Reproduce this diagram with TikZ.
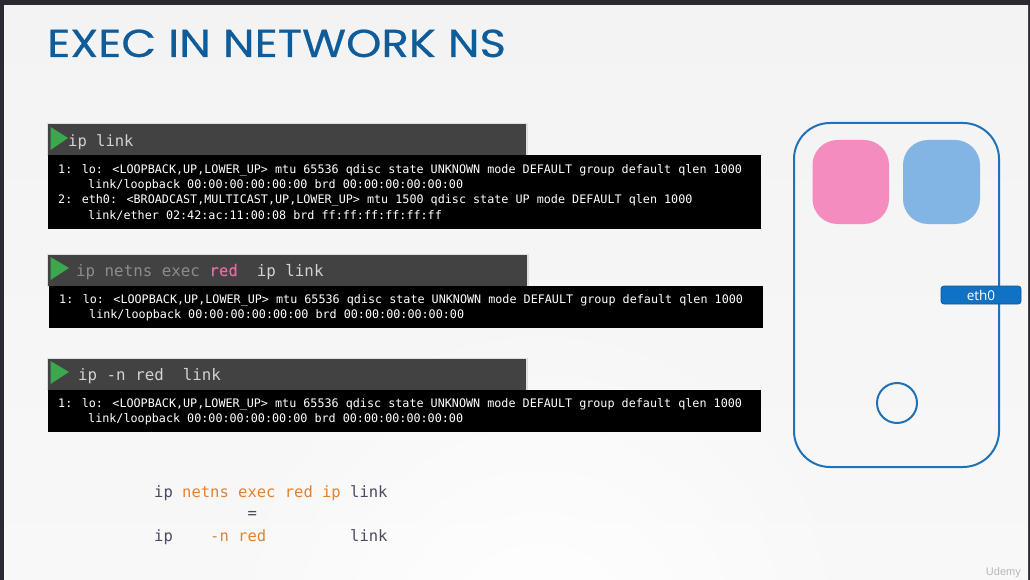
\documentclass[tikz,border=0pt]{standalone}
\usepackage{fontspec}
\setmainfont{Liberation Sans}
\newfontfamily\termfont{DejaVu Sans Mono}
\newfontfamily\termsemi[FakeBold=0.25]{DejaVu Sans Mono}
\newfontfamily\titlefont[FakeBold=0.5,FakeStretch=1.155]{Poppins}
\newfontfamily\labelfont{Open Sans}
\usetikzlibrary{positioning,fadings}
\tikzfading[name=glowfade,inner color=transparent!0,outer color=transparent!100]
\definecolor{pagebg}{HTML}{F3F3F4}
\definecolor{pagelow}{HTML}{F8F8F8}
\definecolor{framedark}{HTML}{2A2A33}
\definecolor{titleblue}{HTML}{0F5C9A}
\definecolor{headbar}{HTML}{424242}
\definecolor{playgreen}{HTML}{3CA84E}
\definecolor{nsblue}{HTML}{1F72B8}
\definecolor{nspink}{HTML}{F48CC0}
\definecolor{nslight}{HTML}{82B4E4}
\definecolor{ethfill}{HTML}{0F72C4}
\definecolor{ethline}{HTML}{0D5A9C}
\definecolor{cmdgrey}{HTML}{8C8C8C}
\definecolor{cmdlight}{HTML}{D2D2D2}
\definecolor{cmdpink}{HTML}{E56A9F}
\definecolor{codedark}{HTML}{4A4A62}
\definecolor{codeorange}{HTML}{E08233}
\tikzset{
  box/.style={inner sep=0pt,outer sep=0pt,anchor=north west,rectangle},
  headbox/.style={box,fill=headbar},
  termbox/.style={box,fill=black},
  termtext/.style={inner sep=0pt,anchor=base west,text=white,font=\termfont\fontsize{11.75}{14}\selectfont},
  cmdtext/.style={inner sep=0pt,anchor=base west,text=cmdlight,font=\termfont\fontsize{15.8}{18}\selectfont},
  codetext/.style={inner sep=0pt,anchor=base west,text=codedark,font=\termfont\fontsize{15.5}{18}\selectfont},
  play/.style={fill=playgreen,draw=none},
  nsbox/.style={box,rounded corners=25pt},
  headshadow/.style={fill=black!13,draw=none}
}
\begin{document}
\begin{tikzpicture}[x=1pt,y=-1pt]
\useasboundingbox (0,0) rectangle (1030,580);
% page background
\fill[framedark] (0,0) rectangle (1030,580);
\shade[top color=pagebg,bottom color=pagelow] (4,6) rectangle (1028,580);
\begin{scope}
\clip (4,6) rectangle (1028,580);
\fill[white,path fading=glowfade] (540,640) circle (340);
\end{scope}
% title
\node[inner sep=0pt,anchor=base west,text=titleblue,font=\titlefont\fontsize{39}{44}\selectfont] (title) at (47,57) {EXEC IN NETWORK NS};
% first block
\fill[headshadow] (47,123) rectangle (527.5,156);
\node[headbox,minimum width=478pt,minimum height=31pt] (head1) at (48,124) {};
\node[termbox,minimum width=713pt,minimum height=74pt] (term1) at (48,155) {};
\fill[play] (50.5,127) -- (68,138) -- (50.5,150) -- cycle;
\node[cmdtext,font=\termfont\fontsize{15.5}{18}\selectfont] (cmd1) at (68,147) {ip link};
\node[termtext] (l11) at (58,174) {1: lo: <LOOPBACK,UP,LOWER\_UP> mtu 65536 qdisc state UNKNOWN mode DEFAULT group default qlen 1000};
\node[termtext] (l12) at (88,189) {link/loopback 00:00:00:00:00:00 brd 00:00:00:00:00:00};
\node[termtext] (l13) at (58,204) {2: eth0: <BROADCAST,MULTICAST,UP,LOWER\_UP> mtu 1500 qdisc state UP mode DEFAULT qlen 1000};
\node[termtext] (l14) at (88,219) {link/ether 02:42:ac:11:00:08 brd ff:ff:ff:ff:ff:ff};
% second block
\fill[headshadow] (47,254) rectangle (528.5,287);
\node[headbox,minimum width=479pt,minimum height=31pt] (head2) at (48,255) {};
\node[termbox,minimum width=714pt,minimum height=42pt] (term2) at (49,286) {};
\fill[play] (50.5,257) -- (69,268) -- (50.5,280) -- cycle;
\node[cmdtext] (cmd2) at (76,276) {\textcolor{cmdgrey}{ip netns exec} \textcolor{cmdpink}{\termsemi red}~~ip link};
\node[termtext] (l21) at (59,303) {1: lo: <LOOPBACK,UP,LOWER\_UP> mtu 65536 qdisc state UNKNOWN mode DEFAULT group default qlen 1000};
\node[termtext] (l22) at (89,318) {link/loopback 00:00:00:00:00:00 brd 00:00:00:00:00:00};
% third block
\fill[headshadow] (47,358) rectangle (527.5,391);
\node[headbox,minimum width=478pt,minimum height=31pt] (head3) at (48,359) {};
\node[termbox,minimum width=713pt,minimum height=42pt] (term3) at (48,390) {};
\fill[play] (50.5,361) -- (69,372) -- (50.5,384) -- cycle;
\node[cmdtext] (cmd3) at (78,380) {ip -n red~~link};
\node[termtext] (l31) at (58,407) {1: lo: <LOOPBACK,UP,LOWER\_UP> mtu 65536 qdisc state UNKNOWN mode DEFAULT group default qlen 1000};
\node[termtext] (l32) at (88,422) {link/loopback 00:00:00:00:00:00 brd 00:00:00:00:00:00};
% equivalence
\node[codetext] (eq1) at (154,497) {ip \textcolor{codeorange}{netns exec red ip} link};
\node[codetext] (eq2) at (154,518) {~~~~~~~~~~=};
\node[codetext] (eq3) at (154,541) {ip~~~~\textcolor{codeorange}{-n red}~~~~~~~~~link};
% host
\node[box,draw=nsblue,line width=2pt,rounded corners=36pt,minimum width=205pt,minimum height=344pt] (host) at (794,123) {};
\node[box,fill=ethfill,draw=ethline,line width=.8pt,rounded corners=3pt,minimum width=80pt,minimum height=18pt,text=white,font=\labelfont\fontsize{13.5}{14}\selectfont] (eth) at (941,286) {eth0};
\node[nsbox,fill=nspink,minimum width=76.5pt,minimum height=84pt] (red) at (812.5,140) {};
\node[nsbox,fill=nslight,minimum width=77pt,minimum height=84pt] (blue) at (903,140) {};
\node[circle,draw=nsblue,line width=2pt,inner sep=0pt,minimum size=40pt] (bridge) at (897,403) {};
% watermark
\node[inner sep=0pt,anchor=base east,text=black!28,font=\fontsize{11}{13}\selectfont] (mark) at (1021,575) {Udemy};
\end{tikzpicture}
\end{document}
